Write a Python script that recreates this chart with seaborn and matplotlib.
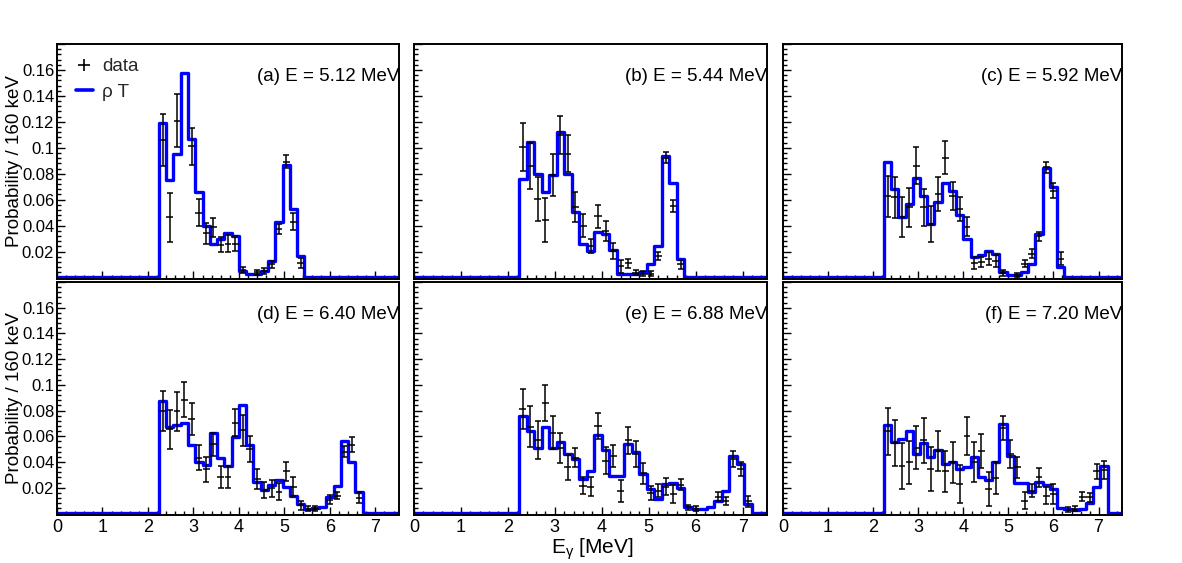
import numpy as np
import pandas as pd
import matplotlib
matplotlib.use("Agg")
import matplotlib.pyplot as plt
import seaborn as sns
from matplotlib.lines import Line2D
from matplotlib.ticker import MultipleLocator, FuncFormatter

nan = np.nan

# 160 keV bins from 0 to 7.52 MeV; the spectra start at bin 14 (2.24 MeV)
bin_width = 0.16
n_bins = 47
first_bin = 14

panel_labels = ["(a) E = 5.12 MeV", "(b) E = 5.44 MeV", "(c) E = 5.92 MeV",
                "(d) E = 6.40 MeV", "(e) E = 6.88 MeV", "(f) E = 7.20 MeV"]

# --- (a) ---
model_a = [0.119, 0.075, 0.095, 0.158, 0.107, 0.066, 0.040, 0.0255, 0.030, 0.034,
           0.032, 0.005, 0.003, 0.003, 0.005, 0.013, 0.043, 0.0866, 0.053, 0.0166]
data_a = [0.106, 0.0465, 0.121, nan, 0.101, 0.050, 0.034, 0.0388, 0.0253, 0.026,
          0.026, 0.0056, nan, 0.004, 0.005, 0.010, 0.0373, 0.0894, 0.043, 0.0109]
err_a = [0.0204, 0.0189, 0.0204, nan, 0.014, 0.0102, 0.0082, 0.0074, 0.006, 0.0064,
         0.0056, 0.0025, nan, 0.002, 0.002, 0.0027, 0.004, 0.0051, 0.0068, 0.0038]

# --- (b) ---
model_b = [0.0758, 0.1047, 0.0797, 0.0656, 0.079, 0.112, 0.080, 0.0503, 0.026, 0.0204,
           0.035, 0.0337, 0.021, 0.003, 0.003, 0.003, 0.004, 0.010, 0.024, 0.0937,
           0.0725, 0.014]
data_b = [0.1006, 0.086, 0.0605, 0.0444, 0.079, 0.1098, 0.0955, 0.054, 0.040, 0.0243,
          0.047, 0.0357, 0.0204, 0.0087, 0.0109, 0.0036, 0.003, 0.003, 0.0166, 0.0924,
          0.0549, 0.010]
err_b = [0.0185, 0.0179, 0.0172, 0.0167, 0.0162, 0.015, 0.014, 0.0115, 0.0087, 0.0057,
         0.0089, 0.0075, 0.0064, 0.0049, 0.0034, 0.002, 0.002, 0.002, 0.0032, 0.0042,
         0.0047, 0.0034]

# --- (c) ---
model_c = [0.089, 0.068, 0.0465, 0.0567, 0.0766, 0.063, 0.0414, 0.058, 0.0725, 0.067,
           0.048, 0.030, 0.0158, 0.017, 0.0204, 0.018, 0.004, 0.002, 0.002, 0.004,
           0.0107, 0.0337, 0.0843, 0.070, 0.0082]
data_c = [0.0626, 0.0618, 0.0465, 0.054, 0.086, 0.054, 0.0414, 0.0643, 0.0924, 0.0628,
          0.0528, 0.039, 0.0112, 0.012, 0.0146, 0.0128, 0.0034, nan, 0.002, 0.0107,
          0.0184, 0.0317, 0.0848, 0.0669, 0.0146]
err_c = [0.016, 0.0158, 0.0157, 0.015, 0.0143, 0.014, 0.014, 0.013, 0.0125, 0.011,
         0.0094, 0.0074, 0.0049, 0.0038, 0.0051, 0.0045, 0.002, nan, 0.0015, 0.0028,
         0.0034, 0.0034, 0.0046, 0.006, 0.0051]

# --- (d) ---
model_d = [0.0873, 0.0675, 0.0687, 0.0706, 0.0533, 0.0397, 0.038, 0.0623, 0.0435, 0.037,
           0.0595, 0.0842, 0.053, 0.0242, 0.0183, 0.0224, 0.0263, 0.0206, 0.0139, 0.007,
           0.0036, 0.004, 0.0054, 0.013, 0.0211, 0.0564, 0.0397, 0.0165]
data_d = [0.0796, 0.0654, 0.0796, 0.0886, 0.0732, 0.0435, 0.0345, 0.0538, 0.0286, 0.0286,
          0.0706, 0.0647, 0.05, 0.0268, 0.0183, 0.0196, 0.017, 0.0327, 0.0209, 0.0062,
          0.0036, 0.0036, nan, 0.0106, 0.0139, 0.0481, 0.0533, 0.0121]
err_d = [0.0157, 0.0152, 0.0152, 0.0139, 0.0125, 0.0098, 0.0097, 0.0088, 0.0086, 0.0086,
         0.0107, 0.0122, 0.01, 0.0077, 0.0064, 0.0067, 0.0064, 0.0071, 0.0071, 0.0034,
         0.002, 0.002, nan, 0.0035, 0.003, 0.0045, 0.0058, 0.0043]

# --- (e) ---
model_e = [0.0757, 0.0641, 0.0512, 0.0672, 0.0512, 0.0556, 0.0461, 0.0423, 0.0268, 0.0327,
           0.0608, 0.0492, 0.0294, 0.0294, 0.0538, 0.0481, 0.0307, 0.019, 0.0113, 0.0229,
           0.0237, 0.0198, 0.0048, 0.0036, 0.0036, 0.0048, 0.010, 0.0178, 0.0448, 0.0384,
           0.007]
data_e = [0.0809, 0.0675, 0.0572, 0.086, 0.0628, 0.0512, 0.0358, 0.0435, 0.0216, 0.0209,
          0.068, 0.041, 0.0448, 0.0178, 0.057, 0.0461, 0.0312, 0.016, 0.0178, 0.0209,
          0.0152, 0.0224, 0.0048, 0.0036, nan, nan, 0.0131, 0.010, 0.0423, 0.0345,
          0.0093]
err_e = [0.0155, 0.0157, 0.0148, 0.0142, 0.0129, 0.0116, 0.01, 0.0073, 0.0064, 0.0075,
         0.0103, 0.0103, 0.0084, 0.0086, 0.0106, 0.0103, 0.008, 0.0052, 0.0052, 0.0064,
         0.0071, 0.0045, 0.002, 0.002, nan, nan, 0.0032, 0.0031, 0.0064, 0.0052,
         0.0045]

# --- (f) ---
model_f = [0.0685, 0.0559, 0.0577, 0.0641, 0.0466, 0.0546, 0.044, 0.0492, 0.0384, 0.0397,
           0.0345, 0.0363, 0.044, 0.028, 0.0263, 0.0397, 0.0693, 0.0448, 0.0237, 0.0237,
           0.0165, 0.0244, 0.0224, 0.019, 0.0041, 0.0036, 0.003, 0.0036, 0.008, 0.0204,
           0.037]
data_f = [0.0641, 0.0546, 0.037, 0.0397, 0.0512, 0.057, 0.0345, 0.0487, 0.0327, 0.0397,
          0.0229, 0.0603, 0.0397, 0.0487, 0.019, 0.0276, 0.0667, 0.0461, 0.0358, 0.010,
          0.0178, 0.028, 0.0139, 0.0152, nan, 0.003, 0.0036, 0.0131, 0.0126, 0.0327,
          0.0337]
err_f = [0.0183, 0.018, 0.018, 0.017, 0.0165, 0.0174, 0.017, 0.0157, 0.0158, 0.0158,
         0.0146, 0.0148, 0.0155, 0.0131, 0.0129, 0.0122, 0.0094, 0.011, 0.008, 0.0064,
         0.0052, 0.0077, 0.0064, 0.0075, nan, 0.002, 0.002, 0.0035, 0.0035, 0.0058,
         0.0071]

models = [model_a, model_b, model_c, model_d, model_e, model_f]
datas = [data_a, data_b, data_c, data_d, data_e, data_f]
errs = [err_a, err_b, err_c, err_d, err_e, err_f]

sns.set_theme(style="white")
plt.rcParams["font.family"] = ["Liberation Sans", "DejaVu Sans"]
plt.rcParams["mathtext.fontset"] = "custom"
plt.rcParams["mathtext.rm"] = "Liberation Sans"
plt.rcParams["mathtext.it"] = "Liberation Sans:italic"

centers = (np.arange(n_bins) + 0.5) * bin_width


def full_hist(values):
    out = np.zeros(n_bins)
    out[first_bin:first_bin + len(values)] = values
    return out


W, H = 1182, 563
fig = plt.figure(figsize=(W / 100, H / 100), dpi=100)

# pad boxes in pixels (left, right) and (top, bottom)
cols = [(57, 399), (414, 767), (783, 1122)]
rows = [(44, 279), (282, 515)]


def draw_panel(ax, model, data, err, label, col, row):
    hist_df = pd.DataFrame({"E": centers, "p": full_hist(model)})
    sns.histplot(data=hist_df, x="E", weights="p", binwidth=bin_width,
                 binrange=(0, n_bins * bin_width), element="step", fill=False,
                 color="blue", linewidth=2.4, ax=ax, zorder=2)
    x = centers[first_bin:first_bin + len(data)]
    ax.errorbar(x, data, yerr=err, fmt="none", ecolor="black", elinewidth=1.1,
                capsize=2, capthick=1.1, zorder=3)
    ax.errorbar(x, data, xerr=0.075, fmt="none", ecolor="black", elinewidth=1.1, zorder=3)

    ax.set_xlim(0, n_bins * bin_width)
    ax.set_ylim(-0.0012, 0.18)
    ax.set_xlabel("")
    ax.set_ylabel("")

    ax.xaxis.set_major_locator(MultipleLocator(1))
    ax.xaxis.set_minor_locator(MultipleLocator(0.2))
    ax.yaxis.set_major_locator(MultipleLocator(0.02))
    ax.yaxis.set_minor_locator(MultipleLocator(0.004))
    ax.yaxis.set_major_formatter(FuncFormatter(lambda v, p: "" if v < 0.01 or v > 0.17 else f"{v:g}"))
    ax.xaxis.set_major_formatter(FuncFormatter(lambda v, p: f"{v:g}"))
    ax.tick_params(axis="both", which="both", direction="in", left=True, bottom=True,
                   top=False, right=False, colors="black")
    ax.tick_params(axis="both", which="major", length=6, width=1)
    ax.tick_params(axis="both", which="minor", length=3, width=1)
    ax.tick_params(axis="x", labelsize=13, pad=3)
    ax.tick_params(axis="y", labelsize=12, pad=2)
    if col != 0:
        ax.tick_params(axis="y", labelleft=False)
    if row == 0:
        ax.tick_params(axis="x", labelbottom=False)
    for s in ax.spines.values():
        s.set_color("black")
        s.set_linewidth(1.4)
    ax.set_facecolor("white")

    ax.text(1.0, 0.86, label, transform=ax.transAxes, ha="right", va="center",
            fontsize=13.5, color="black", clip_on=False)


for i in range(6):
    row, col = divmod(i, 3)
    x0, x1 = cols[col]
    y0, y1 = rows[row]
    ax = fig.add_axes([x0 / W, 1 - y1 / H, (x1 - x0) / W, (y1 - y0) / H])
    draw_panel(ax, models[i], datas[i], errs[i], panel_labels[i], col, row)
    if i == 0:
        handles = [Line2D([], [], color="black", marker="+", ls="none", markersize=9, mew=1.2),
                   Line2D([], [], color="blue", lw=2.6)]
        ax.legend(handles, ["data", "ρ T"], loc="upper left", frameon=False, fontsize=13.5,
                  handlelength=0.9, handletextpad=0.5, labelspacing=0.45, borderpad=0,
                  borderaxespad=0, bbox_to_anchor=(19 / 342, 0.94))

for y0, y1 in rows:
    fig.text(15 / W, 1 - (y0 + y1) / 2 / H, "Probability / 160 keV", rotation=90,
             ha="center", va="center", fontsize=13.5, color="black")

fig.text(592 / W, 1 - 549 / H, r"E$_{\mathrm{γ}}$ [MeV]", ha="center", va="center",
         fontsize=15, color="black")

fig.savefig("out.png", dpi=100, facecolor="white")
